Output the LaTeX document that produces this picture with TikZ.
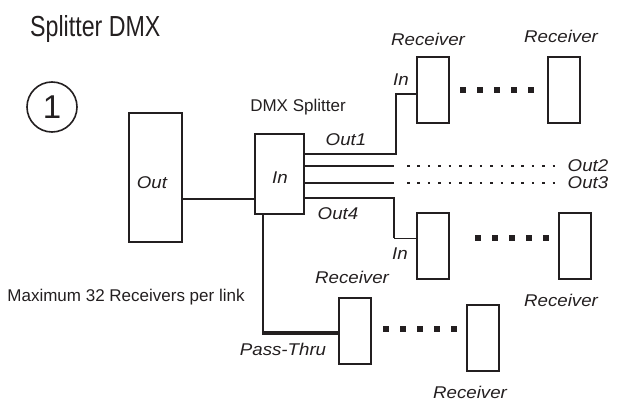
\documentclass[tikz,border=0pt]{standalone}
\usepackage{fontspec}
\setmainfont{Liberation Sans}
\newfontfamily\narrowfont[FakeStretch=0.8]{Liberation Sans}
\newfontfamily\wideit[FakeStretch=1.1]{Liberation Sans Italic}
\definecolor{ink}{HTML}{231F20}
\begin{document}
\begin{tikzpicture}[x=1pt,y=-1pt,
  box/.style={draw=ink, line width=2pt, inner sep=0pt, outer sep=0pt},
  rx/.style={box, minimum width=32pt, minimum height=66pt},
  wire/.style={draw=ink, line width=2pt},
  lbl/.style={font=\wideit\fontsize{17}{19}\selectfont, inner sep=0pt, text=ink},
  plain/.style={font=\fontsize{17}{19}\selectfont, inner sep=0pt, text=ink},
  bigdots/.style={draw=ink, line width=6pt, dash pattern=on 6pt off 11pt},
  smalldots/.style={draw=ink, line width=2.5pt, dash pattern=on 2.5pt off 7.9pt}]
\useasboundingbox (0,0) rectangle (617,414);

% title and number
\node[anchor=base west, inner sep=0pt, text=ink, font=\narrowfont\fontsize{29}{31}\selectfont] (title) at (30,36.5) {Splitter DMX};
\node[circle, draw=ink, line width=1.6pt, minimum size=50pt, inner sep=0pt, text=ink, font=\fontsize{33}{35}\selectfont] (one) at (52,107) {1};

% boxes
\node[box, minimum width=53pt, minimum height=129pt] (out) at (155.5,177.5) {};
\node[box, minimum width=49pt, minimum height=80pt] (split) at (279.5,174) {};
\node[rx] (r1) at (433,90) {};
\node[rx] (r2) at (563.5,90) {};
\node[rx] (r3) at (433,246) {};
\node[rx] (r4) at (575,246) {};
\node[rx] (r5) at (355,331) {};
\node[rx] (r6) at (483,337.5) {};

% helper coordinates
\coordinate (yl) at (0,199);
\coordinate (y1) at (0,154);
\coordinate (y1b) at (396,94);
\coordinate (y2) at (0,166);
\coordinate (y3) at (0,183);
\coordinate (y4) at (0,198);
\coordinate (y4b) at (394,238);
\coordinate (ypt) at (263,333);
\coordinate (e2) at (394,166);
\coordinate (e3) at (394,183);

% connectors
\draw[wire] (out.east |- yl) -- (split.west |- yl);
\draw[wire] (split.east |- y1) -- (y1b |- y1) -- (y1b) -- (r1.west |- y1b);
\draw[wire] (split.east |- y2) -- (e2);
\draw[wire] (split.east |- y3) -- (e3);
\draw[wire] (split.east |- y4) -- (y4b |- y4) -- (y4b);
\draw[draw=ink, line width=1pt] (y4b) -- (r3.west |- y4b);
\draw[wire] (split.south -| ypt) -- (ypt);
\draw[draw=ink, line width=3.5pt] ([xshift=-1pt]ypt) -- (r5.west |- ypt);

% dotted continuations
\draw[smalldots] (407,166) -- (555,166);
\draw[smalldots] (407,183) -- (555,183);
\draw[bigdots] (460,90) -- (534,90);
\draw[bigdots] (475,238) -- (549,238);
\draw[bigdots] (383,329) -- (457,329);

% labels
\node[lbl] (lout) at (152,183) {Out};
\node[lbl] (lin) at (280,178) {In};
\node[plain] (lsplit) at (298,107) {DMX Splitter};
\node[lbl] (lo1) at (346,140) {Out1};
\node[lbl] (lo2) at (588,166) {Out2};
\node[lbl] (lo3) at (588,183) {Out3};
\node[lbl] (lo4) at (338,214) {Out4};
\node[lbl] (lin1) at (401,80) {In};
\node[lbl] (lin3) at (400,254) {In};
\node[lbl] (lr1) at (428,39) {Receiver};
\node[lbl] (lr2) at (561,36) {Receiver};
\node[lbl] (lr4) at (561,300) {Receiver};
\node[lbl] (lr5) at (352,277) {Receiver};
\node[lbl] (lr6) at (470,392) {Receiver};
\node[lbl] (lpt) at (283,349) {Pass-Thru};
\node[plain, anchor=base] (lmax) at (126,301) {Maximum 32 Receivers per link};
\end{tikzpicture}
\end{document}
